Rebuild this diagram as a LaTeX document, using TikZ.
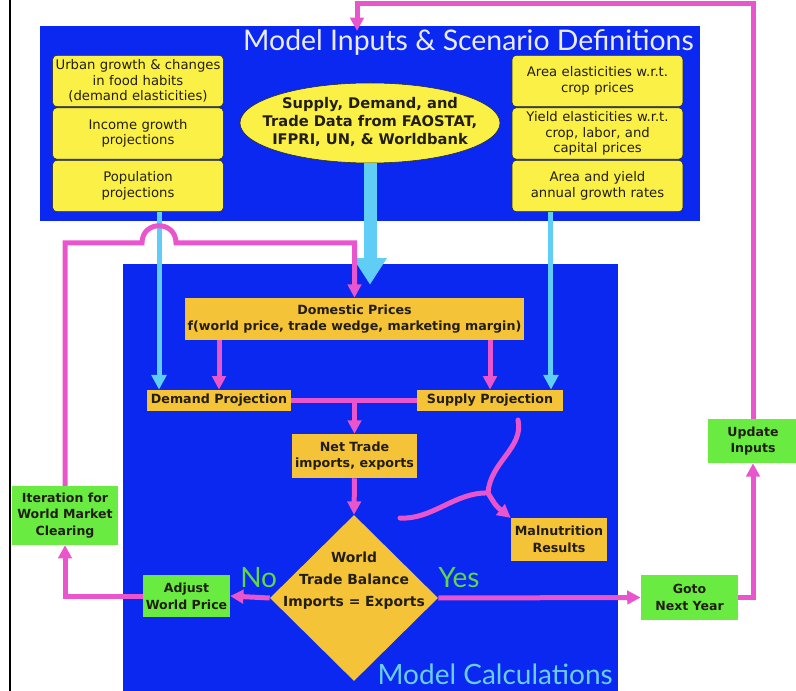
\documentclass[tikz,border=0pt]{standalone}
\usepackage{fontspec}
\setmainfont{DejaVu Sans}
\newfontfamily\headfont{Lato}
\usetikzlibrary{arrows.meta,shapes.geometric}

\definecolor{panelblue}{RGB}{10,40,240}
\definecolor{inyellow}{RGB}{250,240,70}
\definecolor{calcgold}{RGB}{245,195,55}
\definecolor{loopgreen}{RGB}{105,235,65}
\definecolor{loopmag}{RGB}{232,85,205}
\definecolor{datacyan}{RGB}{95,205,245}
\definecolor{titlecyan}{RGB}{105,205,240}
\definecolor{answergreen}{RGB}{95,215,70}
\definecolor{boxtext}{RGB}{35,30,20}

\begin{document}
\begin{tikzpicture}[x=0.75pt,y=-0.75pt,
    >={Triangle[width=10pt,length=10pt]},
    inbox/.style = {
      draw = black!85,
      fill = inyellow,
      thin,
      rounded corners = 3pt,
      align = center,
      inner sep = 0pt,
      text width = 128pt,
      minimum height = 38.5pt,
      text = boxtext,
      font = \fontsize{9.9}{11.6}\selectfont
    },
    calcbox/.style = {
      fill = calcgold,
      align = center,
      inner sep = 0pt,
      text = boxtext,
      font = \bfseries\fontsize{9.5}{12.5}\selectfont
    },
    loopbox/.style = {
      fill = loopgreen,
      align = center,
      inner sep = 0pt,
      text = boxtext,
      font = \bfseries\fontsize{9.4}{12.5}\selectfont
    },
    flow/.style = {draw=loopmag, line width=3.75pt},
    feed/.style = {draw=datacyan, line width=3.75pt,
      -{Triangle[width=11pt,length=11pt]}},
    answer/.style = {text=answergreen, font=\headfont\fontsize{21}{21}\selectfont,
      inner sep=0pt}
  ]
  \useasboundingbox (0,0) rectangle (796,691);

  \draw[line width=1.5pt] (10,0) -- (10,691);

  % the two panels
  \fill[panelblue] (40,26) rectangle (700,221);
  \fill[panelblue] (123,264) rectangle (618,691);

  \node[anchor=base east, inner sep=0pt, text=white!92!blue,
    font=\headfont\fontsize{21.3}{21.3}\selectfont] (inTitle) at (694,51)
    {Model Inputs \& Scenario Definitions};
  \node[anchor=base east, inner sep=0pt, text=titlecyan,
    font=\headfont\fontsize{21}{21}\selectfont] (calcTitle) at (613,684)
    {Model Calculations};

  % inputs
  \node[inbox] (urban) at (138,81)    {Urban growth \& changes\\in food habits\\(demand elasticities)};
  \node[inbox] (income) at (138,133.5) {Income growth\\projections};
  \node[inbox] (popul) at (138,186)   {Population\\projections};

  \node[inbox] (areaEl) at (597.5,81)    {Area elasticities w.r.t.\\crop prices};
  \node[inbox] (yieldEl) at (597.5,133.5) {Yield elasticities w.r.t.\\crop, labor, and\\capital prices};
  \node[inbox] (growth) at (597.5,186)   {Area and yield\\annual growth rates};

  \node[ellipse, draw=black!85, thin, fill=inyellow, inner sep=0pt,
    minimum width=195pt, minimum height=60pt] (data) at (370,123) {};
  \node[align=center, inner sep=0pt, text=boxtext,
    font=\bfseries\fontsize{11}{13.2}\selectfont] (dataText) at (370,122)
    {Supply, Demand, and\\Trade Data from FAOSTAT,\\IFPRI, UN, \& Worldbank};

  % calculations
  \node[calcbox, minimum width=254pt, minimum height=31.5pt] (dom) at (354.5,319)
    {Domestic Prices\\f(world price, trade wedge, marketing margin)};
  \node[calcbox, minimum width=108pt, minimum height=16pt] (dem) at (219,400.5) {Demand Projection};
  \node[calcbox, minimum width=109.5pt, minimum height=16pt] (sup) at (490,400.5) {Supply Projection};
  \node[calcbox, minimum width=94pt, minimum height=33pt] (net) at (354.5,456) {Net Trade\\imports, exports};
  \node[calcbox, minimum width=72pt, minimum height=32pt] (mal) at (559,539.5) {Malnutrition\\Results};

  \node[diamond, fill=calcgold, inner sep=0pt,
    minimum width=126pt, minimum height=124.5pt] (bal) at (354,598) {};
  \node[calcbox, fill=none, font=\bfseries\fontsize{10.4}{16.5}\selectfont] (balText) at (354,581)
    {World\\Trade Balance\\Imports = Exports};

  \node[loopbox, minimum width=65pt, minimum height=31.5pt] (adj) at (186.5,596) {Adjust\\World Price};
  \node[loopbox, minimum width=79.5pt, minimum height=44pt] (iter) at (65,515.5)
    {Iteration for\\World Market\\Clearing};
  \node[loopbox, minimum width=73pt, minimum height=34pt] (goto) at (689.5,597.5) {Goto\\Next Year};
  \node[loopbox, minimum width=67pt, minimum height=33pt] (upd) at (753,441) {Update\\Inputs};

  \node[answer, anchor=base west] (noLbl) at (240,587) {No};
  \node[answer, anchor=base west] (yesLbl) at (438,587) {Yes};

  % data feeds
  \draw[feed] ([xshift=15.75pt]popul.south) -- ([xshift=15.75pt]popul.south |- dem.north);
  \draw[feed] ([xshift=-34.9pt]growth.south) -- ([xshift=-34.9pt]growth.south |- sup.north);
  \draw[draw=datacyan, line width=9.75pt, -{Triangle[width=24pt,length=20pt]}]
    (data.south) -- ([yshift=9.75pt]data.south |- dom.north);

  % price loop
  \draw[flow,->] (dom.south -| dem.north) -- (dem.north);
  \draw[flow,->] (dom.south -| sup.north) -- (sup.north);
  \draw[flow] (dem.east) -- (sup.west);
  \draw[flow,->] (dem.east -| net.north) -- (net.north);
  \draw[flow,->] (net.south) -- (bal.north);
  \draw[flow,->] (bal.west) -- (adj.east);
  \draw[flow,->] (adj.west) -| (iter.south);
  \draw[flow,->] (iter.north) |- (142,243) .. controls (142,220) and (176,220) .. (176,243) -| (dom.north);

  % malnutrition branch
  \coordinate (brTop) at (518,420);
  \coordinate (brLeft) at (400,518);
  \coordinate (brJoin) at (488,493);
  \draw[flow, line cap=round] (brTop) .. controls (524,448) and (490,462) .. (brJoin);
  \draw[flow, line cap=round] (brLeft) .. controls (432,520) and (455,492) .. (brJoin);
  \draw[flow,->] (brJoin) .. controls (496,506) .. (mal.north west);

  % next year loop
  \coordinate (loopIn) at (357,31);
  \draw[flow,->] (bal.east) -- (goto.west);
  \draw[flow,->] (goto.east) -| (upd.south);
  \draw[flow,->] (upd.north) |- (357,4) -- (loopIn);
\end{tikzpicture}
\end{document}
